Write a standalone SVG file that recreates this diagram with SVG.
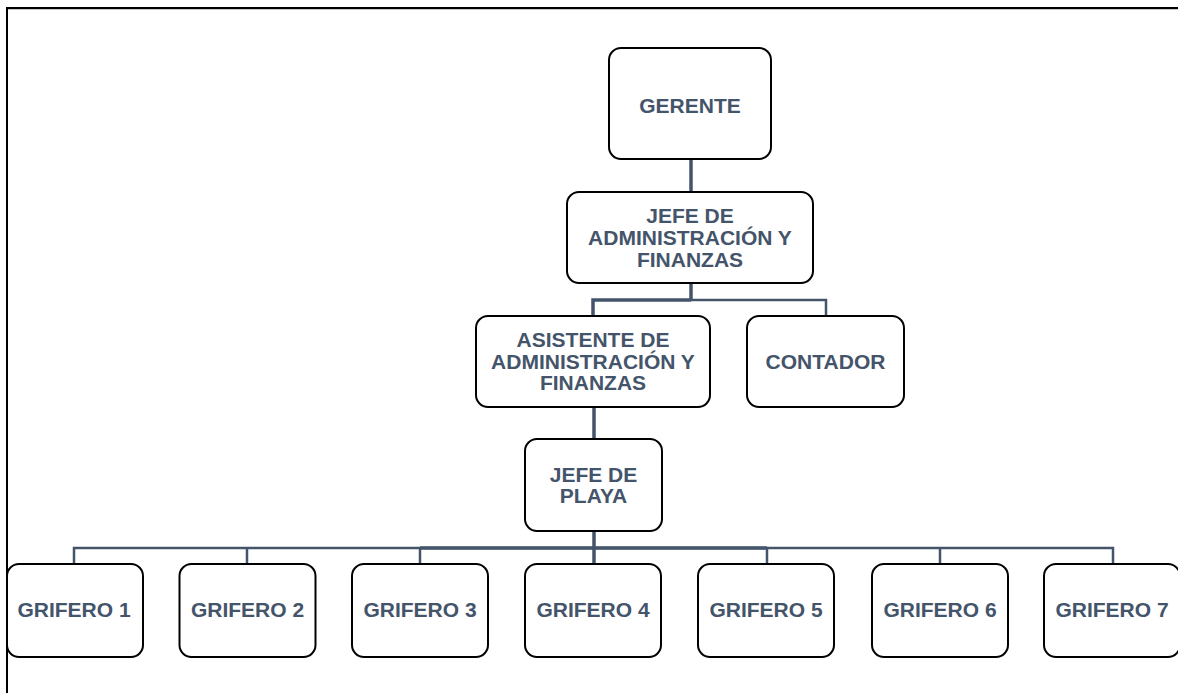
<svg xmlns="http://www.w3.org/2000/svg" width="1178" height="693" viewBox="0 0 1178 693">
  <style>
    .box { fill: #ffffff; stroke: #000000; stroke-width: 2; }
    .lbl { font-family: "Liberation Sans", Arial, sans-serif; font-weight: bold; font-size: 21px; fill: #44546A; text-anchor: middle; }
    .wire { fill: none; stroke: #44546A; stroke-width: 2.5; }
    .wire-thick { fill: none; stroke: #44546A; stroke-width: 3.5; }
    .frame { fill: none; stroke: #000000; stroke-width: 2; }
  </style>
  <rect x="0" y="0" width="1178" height="693" fill="#ffffff"/>

  <!-- page frame (top and left edges only) -->
  <g id="frame">
    <line x1="7.5" y1="9.5" x2="1178" y2="9.5" stroke="#c8c8c8" stroke-width="1"/>
    <path class="frame" d="M7,693 V8 H1178"/>
  </g>

  <!-- connectors -->
  <g id="connectors">
    <line class="wire-thick" x1="691" y1="159" x2="691" y2="192"/>
    <line class="wire-thick" x1="691" y1="283" x2="691" y2="300"/>
    <path class="wire-thick" d="M691,300 H593 V316"/>
    <path class="wire" d="M691,300 H826 V316"/>
    <line class="wire-thick" x1="594" y1="407" x2="594" y2="439"/>
    <line class="wire-thick" x1="594" y1="531" x2="594" y2="564"/>
    <line class="wire-thick" x1="420" y1="548" x2="767" y2="548"/>
    <path class="wire" d="M74,564 V548 H1113 V564"/>
    <line class="wire" x1="247" y1="548" x2="247" y2="564"/>
    <line class="wire" x1="420" y1="548" x2="420" y2="564"/>
    <line class="wire" x1="767" y1="548" x2="767" y2="564"/>
    <line class="wire" x1="940" y1="548" x2="940" y2="564"/>
  </g>

  <g id="gerente">
    <rect class="box" x="609" y="48" width="162" height="111" rx="12"/>
    <text class="lbl" x="690" y="113">GERENTE</text>
  </g>

  <g id="jefe-admin">
    <rect class="box" x="567" y="192" width="246" height="91" rx="12"/>
    <text class="lbl" x="690" y="223">JEFE DE</text>
    <text class="lbl" x="690" y="245">ADMINISTRACIÓN Y</text>
    <text class="lbl" x="690" y="267">FINANZAS</text>
  </g>

  <g id="asistente">
    <rect class="box" x="476" y="316" width="234" height="91" rx="12"/>
    <text class="lbl" x="593" y="347">ASISTENTE DE</text>
    <text class="lbl" x="593" y="369">ADMINISTRACIÓN Y</text>
    <text class="lbl" x="593" y="390">FINANZAS</text>
  </g>

  <g id="contador">
    <rect class="box" x="747" y="316" width="157" height="91" rx="12"/>
    <text class="lbl" x="825.5" y="369">CONTADOR</text>
  </g>

  <g id="jefe-playa">
    <rect class="box" x="525" y="439" width="137" height="92" rx="12"/>
    <text class="lbl" x="593.5" y="482">JEFE DE</text>
    <text class="lbl" x="593.5" y="503">PLAYA</text>
  </g>

  <g id="grifero-1">
    <rect class="box" x="7" y="564" width="136" height="93" rx="12"/>
    <text class="lbl" x="74" y="617">GRIFERO 1</text>
  </g>
  <g id="grifero-2">
    <rect class="box" x="179.5" y="564" width="136" height="93" rx="12"/>
    <text class="lbl" x="247.5" y="617">GRIFERO 2</text>
  </g>
  <g id="grifero-3">
    <rect class="box" x="352" y="564" width="136" height="93" rx="12"/>
    <text class="lbl" x="420" y="617">GRIFERO 3</text>
  </g>
  <g id="grifero-4">
    <rect class="box" x="525" y="564" width="136" height="93" rx="12"/>
    <text class="lbl" x="593" y="617">GRIFERO 4</text>
  </g>
  <g id="grifero-5">
    <rect class="box" x="698" y="564" width="136" height="93" rx="12"/>
    <text class="lbl" x="766" y="617">GRIFERO 5</text>
  </g>
  <g id="grifero-6">
    <rect class="box" x="872" y="564" width="136" height="93" rx="12"/>
    <text class="lbl" x="940" y="617">GRIFERO 6</text>
  </g>
  <g id="grifero-7">
    <rect class="box" x="1044" y="564" width="136" height="93" rx="12"/>
    <text class="lbl" x="1112" y="617">GRIFERO 7</text>
  </g>
</svg>
